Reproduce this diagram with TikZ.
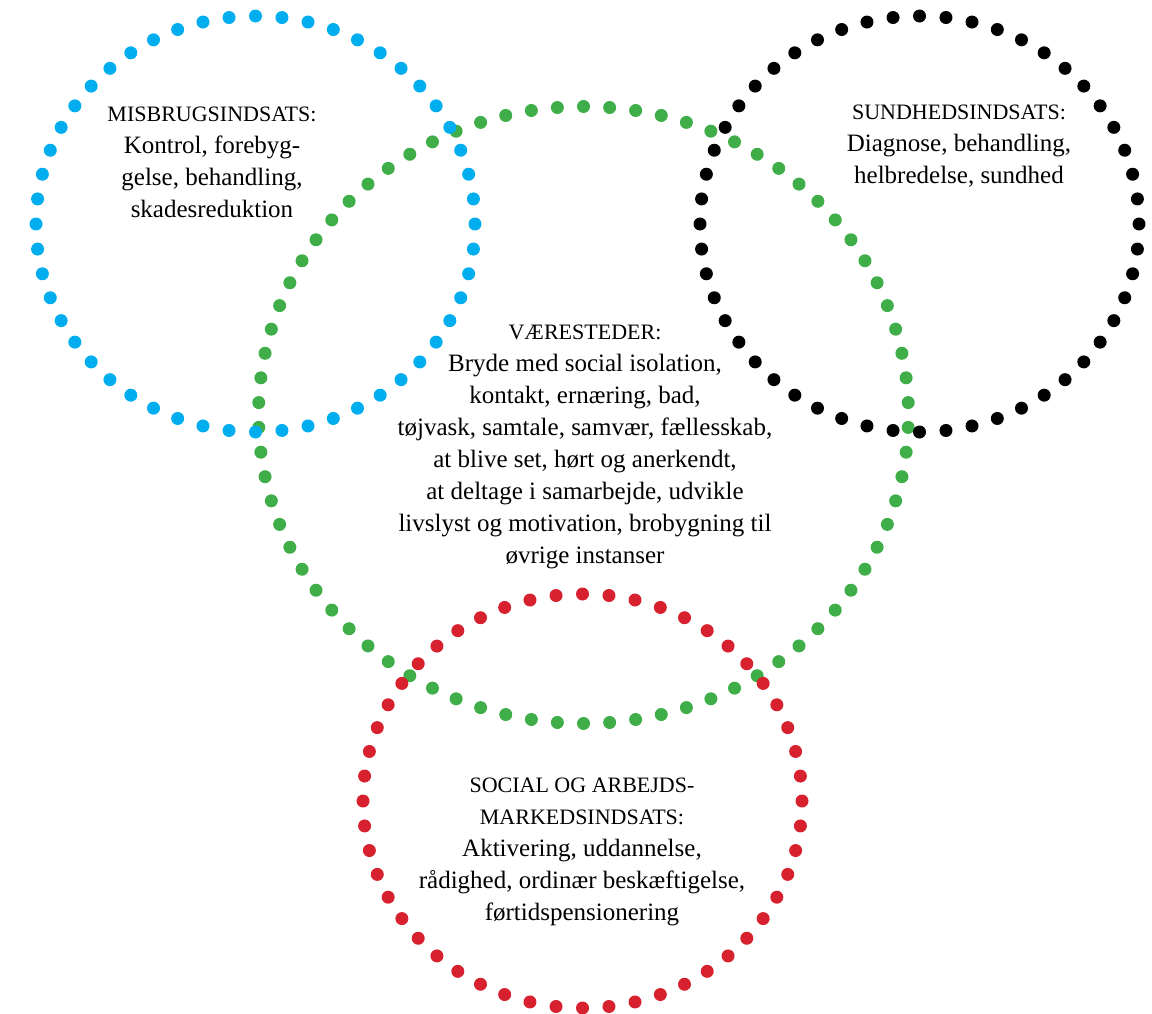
\documentclass[tikz,border=0pt]{standalone}
\usepackage{fontspec}
\setmainfont{Liberation Serif}
\definecolor{cblue}{HTML}{00AEEF}
\definecolor{cgreen}{HTML}{3FAE49}
\definecolor{cred}{HTML}{D7212E}
\definecolor{cblack}{HTML}{000000}
\newcommand{\hd}[1]{{\fontsize{22}{32}\selectfont #1}}
\begin{document}
\begin{tikzpicture}[x=1pt,y=-1pt,
  txt/.style={align=center,inner sep=0pt,text=black,font=\fontsize{25}{32}\selectfont}]
\useasboundingbox (0,0) rectangle (1152,1014);
% green ring (78 dots)
\foreach \i in {0,...,77}
  \fill[cgreen] (583.5,415) ++({270+\i*(360/78)}:325 and 308.5) circle[radius=6.5pt];
% blue ring
\foreach \i in {0,...,51}
  \fill[cblue] (255.5,224) ++({90+\i*(360/52)}:219.5 and 208) circle[radius=6.5pt];
% black ring
\foreach \i in {0,...,51}
  \fill[cblack] (919.5,224) ++({90+\i*(360/52)}:219.5 and 208) circle[radius=6.5pt];
% red ring
\foreach \i in {0,...,51}
  \fill[cred] (582.5,801) ++({90+\i*(360/52)}:219.5 and 207) circle[radius=6.5pt];
% texts
\node[txt] (mis) at (212,162) {\hd{MISBRUGSINDSATS:}\\Kontrol, forebyg-\\gelse, behandling,\\skadesreduktion};
\node[txt] (sund) at (959,146) {\hd{SUNDHEDSINDSATS:}\\Diagnose, behandling,\\helbredelse, sundhed};
\node[txt] (vaer) at (585,447) {\hd{VÆRESTEDER:}\\Bryde med social isolation,\\kontakt, ernæring, bad,\\tøjvask, samtale, samvær, fællesskab,\\at blive set, hørt og anerkendt,\\at deltage i samarbejde, udvikle\\livslyst og motivation, brobygning til\\øvrige instanser};
\node[txt] (soc) at (582,852) {\hd{SOCIAL OG ARBEJDS-}\\\hd{MARKEDSINDSATS:}\\Aktivering, uddannelse,\\rådighed, ordinær beskæftigelse,\\førtidspensionering};
\end{tikzpicture}
\end{document}
